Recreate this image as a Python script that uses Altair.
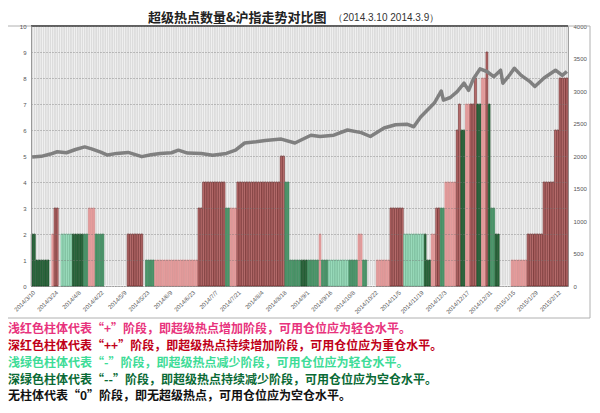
import altair as alt
import pandas as pd

# ---- bar runs (consecutive trading days with the same count / colour class) ----
run_len = [2, 6, 1, 1, 2, 1, 5, 5, 2, 3, 4, 10, 7, 1, 4, 19, 2, 10, 2, 3, 19, 2, 2,
           5, 3, 5, 1, 3, 9, 4, 2, 2, 4, 6, 6, 9, 1, 2, 2, 2, 2, 5, 1, 1, 2, 2, 2, 1,
           2, 2, 1, 1, 2, 2, 5, 7, 7, 5, 2, 4]
run_val = [2, 1, 0, 2, 3, 0, 2, 2, 2, 3, 2, 0, 2, 0, 1, 1, 3, 4, 3, 3, 4, 5, 4,
           1, 1, 1, 2, 1, 1, 1, 2, 1, 0, 1, 3, 2, 2, 1, 2, 3, 3, 4, 6, 7, 6, 7, 7, 8,
           7, 8, 9, 7, 3, 2, 0, 1, 2, 4, 6, 8]
run_cat = ["DG", "DG", "Z", "LR", "DR", "Z", "LG", "DG", "MG", "LR", "MG", "Z", "DR", "Z", "MG", "LR", "DR", "DR", "MG", "LR", "DR", "DR", "MG",
           "MG", "DG", "MG", "LR", "MG", "LG", "MG", "LR", "MG", "Z", "LR", "DR", "LG", "DG", "DG", "LR", "DR", "MG", "LR", "DR", "DR", "DG", "LR", "DR", "DR",
           "DG", "LR", "DR", "DG", "MG", "DG", "Z", "LR", "DR", "DR", "DR", "DR"]

# ---- Shanghai index (right axis), read at selected trading days ----
line_day = [0, 4, 8, 11, 15, 19, 23, 26, 30, 33, 37, 42, 48, 52, 56, 61, 64, 68, 74, 79,
            85, 89, 93, 98, 102, 109, 115, 122, 126, 132, 138, 144, 148, 154, 159, 164,
            167, 170, 176, 179, 180, 183, 186, 189, 191, 193, 196, 199, 202, 205, 206,
            209, 211, 214, 218, 220, 224, 229, 232, 234]
line_val = [1985, 1995, 2030, 2065, 2050, 2100, 2140, 2110, 2060, 2015, 2040, 2055, 1990,
            2020, 2040, 2050, 2090, 2045, 2040, 2010, 2040, 2090, 2200, 2220, 2240, 2260,
            2200, 2320, 2300, 2320, 2400, 2360, 2300, 2430, 2480, 2490, 2450, 2600, 2815,
            3000, 2860, 2900, 2990, 3120, 3010, 3180, 3340, 3300, 3220, 3320, 3120, 3250,
            3350, 3240, 3140, 3070, 3200, 3320, 3240, 3300]

tick_days = [0, 10, 20, 30, 40, 50, 60, 70, 80, 90, 100, 110, 120, 130, 140, 150,
             160, 170, 180, 190, 200, 210, 220, 230]
tick_labels = ["2014/3/10", "2014/3/24", "2014/4/8", "2014/4/22", "2014/5/9", "2014/5/23",
               "2014/6/9", "2014/6/23", "2014/7/7", "2014/7/21", "2014/8/4", "2014/8/18",
               "2014/9/1", "2014/9/16", "2014/10/8", "2014/10/22", "2014/11/5", "2014/11/19",
               "2014/12/3", "2014/12/17", "2014/12/31", "2015/1/15", "2015/1/29", "2015/2/12"]

left_ticks = [0, 1, 2, 3, 4, 5, 6, 7, 8, 9, 10]
right_ticks = [0, 500, 1000, 1500, 2000, 2500, 3000, 3500, 4000]

title_main = "超级热点数量&沪指走势对比图"
title_date = "（2014.3.10   2014.3.9）"

notes = [
    "浅红色柱体代表“+”阶段，即超级热点增加阶段，可用仓位应为轻仓水平。",
    "深红色柱体代表“++”阶段，即超级热点持续增加阶段，可用仓位应为重仓水平。",
    "浅绿色柱体代表“-”阶段，即超级热点减少阶段，可用仓位应为轻仓水平。",
    "深绿色柱体代表“--”阶段，即超级热点持续减少阶段，可用仓位应为空仓水平。",
    "无柱体代表“0”阶段，即无超级热点，可用仓位应为空仓水平。",
]
note_colors = ["#e8337d", "#c00018", "#3ddc97", "#0a6a35", "#111111"]

# ---- build tables ----
days, vals, cats = [], [], []
d = 0
for n, v, c in zip(run_len, run_val, run_cat):
    for _ in range(n):
        days.append(d)
        vals.append(v)
        cats.append(c)
        d += 1
bars_df = pd.DataFrame({"day": days, "value": vals, "cat": cats})
line_df = pd.DataFrame({"day": line_day, "idx": line_val})

cat_dom = ["LR", "DR", "LG", "MG", "DG", "Z"]
fill_rng = ["#e8a0a0", "#c07878", "#a3e2c3", "#4f9a6e", "#2c6b40", "#ffffff"]
stroke_rng = ["#d48484", "#641616", "#62b08a", "#2e7a4e", "#0a4018", "#ffffff"]

label_expr = "[" + ",".join("'%s'" % s for s in tick_labels) + "][indexof([" + \
    ",".join(str(t) for t in tick_days) + "], datum.value)]"

xscale = alt.Scale(paddingInner=0.22, paddingOuter=0.1)
xaxis = alt.Axis(values=tick_days, labelExpr=label_expr, labelAngle=-45, labelFontSize=6,
                 labelColor="#555", ticks=False, domainColor="#999", title=None,
                 labelPadding=3, labelFont="Liberation Sans")

def X(**kw):
    return alt.X("day:O", scale=xscale, axis=xaxis, **kw)

yaxis_left = alt.Axis(orient="left", values=left_ticks, grid=True, gridColor="#777",
                      gridDash=[1, 2], gridWidth=0.8, ticks=False, domainColor="#999",
                      labelFontSize=6, labelColor="#555", title=None, zindex=1,
                      labelPadding=5, labelFont="Liberation Sans", labelOverlap=False)

def yscale_left():
    return alt.Scale(domain=[0, 10], nice=False, zero=True)

bg = alt.Chart(bars_df).mark_bar(color="#dcdcdc").encode(
    x=X(), y=alt.Y(datum=10, type="quantitative", scale=yscale_left(), axis=None))

bars = alt.Chart(bars_df).mark_bar(strokeWidth=0.6).encode(
    x=X(),
    y=alt.Y("value:Q", scale=yscale_left(), axis=yaxis_left),
    fill=alt.Fill("cat:N", scale=alt.Scale(domain=cat_dom, range=fill_rng), legend=None),
    stroke=alt.Stroke("cat:N", scale=alt.Scale(domain=cat_dom, range=stroke_rng), legend=None),
)

top_rule = alt.Chart(bars_df).mark_rule(color="#111", strokeWidth=2).encode(
    y=alt.Y(datum=10, type="quantitative", scale=yscale_left(), axis=None))

line = alt.Chart(line_df).mark_line(color="#808080", strokeWidth=3.5, strokeJoin="round").encode(
    x=X(bandPosition=0.5),
    y=alt.Y("idx:Q", scale=alt.Scale(domain=[0, 4000], nice=False),
            axis=alt.Axis(orient="right", values=right_ticks, grid=False, format="d",
                          ticks=False, domain=False, labelFontSize=6, labelColor="#555",
                          title=None, labelPadding=5, labelFont="Liberation Sans")),
)

one = pd.DataFrame({"a": [0]})
frame = alt.Chart(one).mark_rect(fillOpacity=0, stroke="#b0b0b0", strokeWidth=1).encode(
    x=alt.value(-24), x2=alt.value(559), y=alt.value(0), y2=alt.value(292))

t_main = alt.Chart(pd.DataFrame({"t": [title_main]})).mark_text(
    font="Noto Sans CJK SC", fontWeight="bold", fontSize=13, align="left",
    baseline="middle", color="#222").encode(text="t:N", x=alt.value(117), y=alt.value(-8))
t_date = alt.Chart(pd.DataFrame({"t": [title_date]})).mark_text(
    font="Liberation Sans", fontSize=10, align="left", baseline="middle",
    color="#333").encode(text="t:N", x=alt.value(302), y=alt.value(-8))

note_y = [303, 320, 337, 354, 370]
note_layers = []
for txt, col, yy in zip(notes, note_colors, note_y):
    note_layers.append(
        alt.Chart(pd.DataFrame({"t": [txt]})).mark_text(
            font="Noto Sans CJK SC", fontWeight="bold", fontSize=12, align="left",
            baseline="middle", color=col).encode(
            text="t:N", x=alt.value(-23), y=alt.value(yy)))

chart = alt.layer(bg, bars, top_rule, line, frame, t_main, t_date, *note_layers).resolve_scale(
    y="independent"
).properties(
    width=537, height=260,
    padding={"left": 23, "top": 18, "right": 24, "bottom": 119},
    autosize=alt.AutoSizeParams(type="none"),
    background="white",
).configure_view(stroke="#a0a0a0")

chart.save("out.html", embed_options={"renderer": "svg", "actions": False})
